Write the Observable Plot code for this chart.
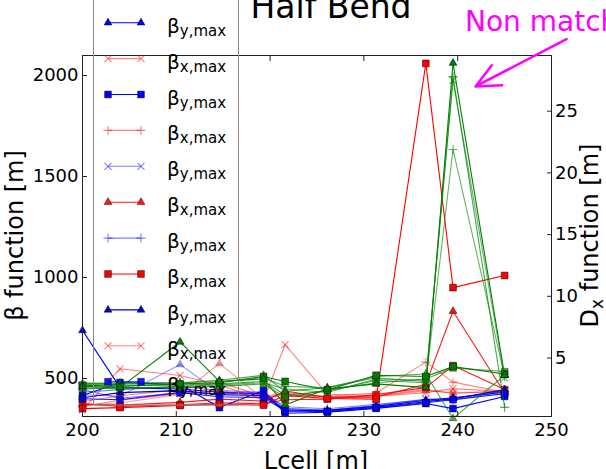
<!DOCTYPE html>
<html><head><meta charset="utf-8">
<script src="https://cdn.jsdelivr.net/npm/d3@7"></script>
<script src="https://cdn.jsdelivr.net/npm/@observablehq/plot@0.6"></script>
<style>body{margin:0;background:#fff} svg{display:block}</style>
</head><body><div id="chart"></div>
<script>
// ---- data ----
const lcell = [200, 204, 210.4, 214.6, 219.3, 221.6, 226.1, 231.3, 236.6, 239.5, 245];
const xTicks = [200, 210, 220, 230, 240, 250];
const betaTicks = [500, 1000, 1500, 2000];
const dxTicks = [5, 10, 15, 20, 25];
// alignment of the twin axes (Dx value <-> beta value at same height)
const dxAnchor = [5, 25];
const betaAnchor = [601.5, 1823.3];

// beta function series [m]
const by_tri_a  = [738, 455, 448, 432, 425, 338, 342, 362, 392, 405, 432];
const bx_x_a    = [345, 548, 515, 468, 392, 668, 422, 415, 445, 426, 438];
const by_sq_a   = [416, 480, 470, 356, 441, 328, 333, 352, 376, 351, 411];
const bx_plus_a = [385, 415, 445, 482, 410, 430, 412, 428, 581, 482, 432];
const by_x_a    = [432, 445, 462, 440, 432, 352, 342, 366, 398, 398, 440];
const bx_tri_a  = [372, 368, 382, 398, 388, 438, 406, 408, 472, 833, 428];
const by_plus_a = [445, 402, 430, 425, 428, 360, 350, 372, 395, 392, 436];
const bx_sq_a   = [351, 356, 366, 372, 368, 416, 401, 398, 2060, 950, 1010];
const by_tri_b  = [405, 430, 440, 420, 415, 345, 338, 358, 385, 400, 445];
const bx_x_b    = [362, 392, 425, 440, 405, 420, 408, 412, 430, 450, 436];
const by_sq_b   = [400, 395, 430, 410, 405, 340, 336, 355, 380, 395, 425];
const by_tri_c  = [420, 412, 569, 430, 418, 350, 344, 362, 388, 402, 438];
const bx_tri_b  = [366, 380, 420, 574, 398, 420, 410, 412, 440, 430, 435];
const bx_sq_b   = [376, 362, 370, 380, 375, 395, 398, 420, 455, 564, 445];

// Dx function series [m]
const dx_tri_a  = [2.7, 2.6, 6.3, 3.1, 3.3, 1.2, 2.5, 2.9, 2.6, 28.9, 3.6];
const dx_sq_a   = [2.8, 2.7, 2.9, 3.0, 3.5, 3.1, 2.4, 3.6, 3.5, 4.3, 3.7];
const dx_plus_a = [2.9, 2.8, 2.8, 2.9, 3.1, 2.0, 2.3, 3.2, 3.0, 27.8, 1.0];
const dx_x_a    = [2.6, 2.5, 2.7, 2.8, 3.0, 2.5, 2.2, 3.3, 3.2, 27.5, 3.4];
const dx_plus_b = [3.0, 2.9, 3.0, 3.1, 3.4, 2.7, 2.6, 3.4, 3.1, 21.9, 3.5];
const dx_sq_b   = [2.5, 2.6, 2.6, 2.7, 2.9, 1.8, 2.4, 3.0, 3.3, 4.2, 3.9];
const dx_tri_b  = [2.9, 3.0, 3.0, 3.2, 3.6, 2.3, 2.6, 3.5, 3.7, 0.1, 3.6];

const legendKeys = ["by_tri_a","bx_x_a","by_sq_a","bx_plus_a","by_x_a","bx_tri_a","by_plus_a","bx_sq_a","by_tri_b","bx_x_b","by_sq_b"];
const legendSubs = ["y,max","x,max","y,max","x,max","y,max","x,max","y,max","x,max","y,max","x,max","y,max"];

const titleText = "Half Bend";
const noteText = "Non match";
const note = {x1: 251.6, y1: 2180, x2: 241.9, y2: 1946};

// ---- styles ----
const values = {by_tri_a, bx_x_a, by_sq_a, bx_plus_a, by_x_a, bx_tri_a, by_plus_a, bx_sq_a, by_tri_b, bx_x_b, by_sq_b, by_tri_c, bx_tri_b, bx_sq_b,
  dx_tri_a, dx_sq_a, dx_plus_a, dx_x_a, dx_plus_b, dx_sq_b, dx_tri_b};
const BLUE = "#0000ff", RED = "#ff0000", GREEN = "#008000";
const styles = {
  by_tri_c: [BLUE, 0.4, "triangle"], bx_tri_b: [RED, 0.4, "triangle"], bx_sq_b: [RED, 0.9, "square"],
  by_tri_a: [BLUE, 1, "triangle"], bx_x_a: [RED, 0.5, "times"], by_sq_a: [BLUE, 1, "square"],
  bx_plus_a: [RED, 0.5, "plus"], by_x_a: [BLUE, 0.5, "times"], bx_tri_a: [RED, 0.9, "triangle"],
  by_plus_a: [BLUE, 0.5, "plus"], bx_sq_a: [RED, 1, "square"], by_tri_b: ["#0000cc", 1, "triangle"],
  bx_x_b: [RED, 0.5, "times"], by_sq_b: [BLUE, 0.9, "square"],
  dx_sq_b: [GREEN, 0.7, "square"], dx_x_a: [GREEN, 0.6, "times"], dx_plus_b: [GREEN, 0.6, "plus"],
  dx_tri_b: [GREEN, 0.7, "triangle"], dx_plus_a: [GREEN, 0.7, "plus"], dx_sq_a: [GREEN, 1, "square"],
  dx_tri_a: [GREEN, 1, "triangle"]
};
const symR = {triangle: 2.9, square: 3.8, times: 3.3, plus: 3.0};
const filled = s => s === "triangle" || s === "square";

const conv = d => betaAnchor[0] + (d - dxAnchor[0]) * (betaAnchor[1] - betaAnchor[0]) / (dxAnchor[1] - dxAnchor[0]);
const inv = b => dxAnchor[0] + (b - betaAnchor[0]) * (dxAnchor[1] - dxAnchor[0]) / (betaAnchor[1] - betaAnchor[0]);

const marks = [];
for (const key of Object.keys(styles)) {
  const [color, op, sym] = styles[key];
  const isDx = key.startsWith("dx");
  const rows = lcell.map((x, i) => ({x, y: isDx ? conv(values[key][i]) : values[key][i]}));
  marks.push(Plot.line(rows, {x: "x", y: "y", stroke: color, strokeOpacity: op, strokeWidth: 1.1, clip: true}));
  marks.push(Plot.dot(rows, {x: "x", y: "y", symbol: () => sym, r: symR[sym],
    fill: filled(sym) ? color : "none", fillOpacity: op,
    stroke: filled(sym) ? "#000" : color, strokeOpacity: op, strokeWidth: filled(sym) ? 0.5 : 1.1}));
}

const chart = Plot.plot({
  width: 606, height: 469,
  marginLeft: 82, marginRight: 55, marginTop: 55, marginBottom: 53,
  style: {fontFamily: "DejaVu Sans", fontSize: "18px", background: "#fff", color: "#000", overflow: "visible"},
  x: {domain: [200, 250]},
  y: {domain: [311.9, 2099]},
  marks: [
    ...marks,
    Plot.frame({stroke: "#222", strokeWidth: 1}),
    Plot.axisX(xTicks, {anchor: "bottom", tickSize: -5, tickPadding: 12, fontSize: 18, label: null, stroke: "#222", tickFormat: d => String(d)}),
    Plot.axisX(xTicks, {anchor: "top", tickSize: -5, tickFormat: () => "", label: null, stroke: "#222"}),
    Plot.axisY(betaTicks, {anchor: "left", tickSize: -5, tickPadding: 9, fontSize: 18, label: null, stroke: "#222", tickFormat: d => String(d)}),
    Plot.axisY(dxTicks.map(conv), {anchor: "right", tickSize: -5, tickPadding: 8.5, fontSize: 18, label: null, stroke: "#222",
      tickFormat: v => String(Math.round(inv(v)))}),
    Plot.arrow([note], {x1: "x1", y1: "y1", x2: "x2", y2: "y2", stroke: "#ff00ff", strokeWidth: 2.5, headLength: 16, headAngle: 50})
  ]
});
document.getElementById("chart").appendChild(chart);

// ---- texts and legend ----
const svg = d3.select(chart);
const g = svg.append("g").attr("font-family", "DejaVu Sans").attr("text-anchor", "start");
g.append("text").attr("x", 331).attr("y", 18).attr("text-anchor", "middle").attr("font-size", 33).text(titleText);
g.append("text").attr("x", 465).attr("y", 31).attr("font-size", 28).attr("fill", "#ff00ff").text(noteText);
g.append("text").attr("x", 316).attr("y", 469).attr("text-anchor", "middle").attr("font-size", 24).text("Lcell [m]");
g.append("text").attr("transform", "translate(23,235.5) rotate(-90)").attr("text-anchor", "middle").attr("font-size", 24).text("β function [m]");
const rl = g.append("text").attr("transform", "translate(598,235.5) rotate(-90)").attr("text-anchor", "middle").attr("font-size", 24);
rl.append("tspan").text("D");
rl.append("tspan").attr("font-size", 17).attr("dy", 5).text("x");
rl.append("tspan").attr("dy", -5).text(" function [m]");

const lg = g.append("g");
lg.append("rect").attr("x", 93.5).attr("y", -10).attr("width", 145).attr("height", 415).attr("fill", "none").attr("stroke", "#888").attr("stroke-width", 1);
const symMap = {triangle: d3.symbolTriangle, square: d3.symbolSquare, times: d3.symbolTimes, plus: d3.symbolPlus};
legendKeys.forEach((key, i) => {
  const [color, op, sym] = styles[key];
  const y = 22.7 + i * 35.9;
  const row = lg.append("g");
  row.append("line").attr("x1", 108).attr("x2", 141).attr("y1", y).attr("y2", y).attr("stroke", color).attr("stroke-opacity", op).attr("stroke-width", 1.1);
  const path = d3.symbol(symMap[sym], Math.PI * symR[sym] * symR[sym])();
  for (const mx of [108, 141]) {
    row.append("path").attr("d", path).attr("transform", `translate(${mx},${y})`)
      .attr("fill", filled(sym) ? color : "none").attr("fill-opacity", op)
      .attr("stroke", filled(sym) ? "#000" : color).attr("stroke-opacity", op).attr("stroke-width", filled(sym) ? 0.5 : 1.1);
  }
  const t = row.append("text").attr("x", 167).attr("y", y + 10).attr("font-size", 20).attr("text-anchor", "start");
  t.append("tspan").text("β");
  t.append("tspan").attr("font-size", 15).attr("dy", 3).text(legendSubs[i]);
});
</script>
</body></html>
